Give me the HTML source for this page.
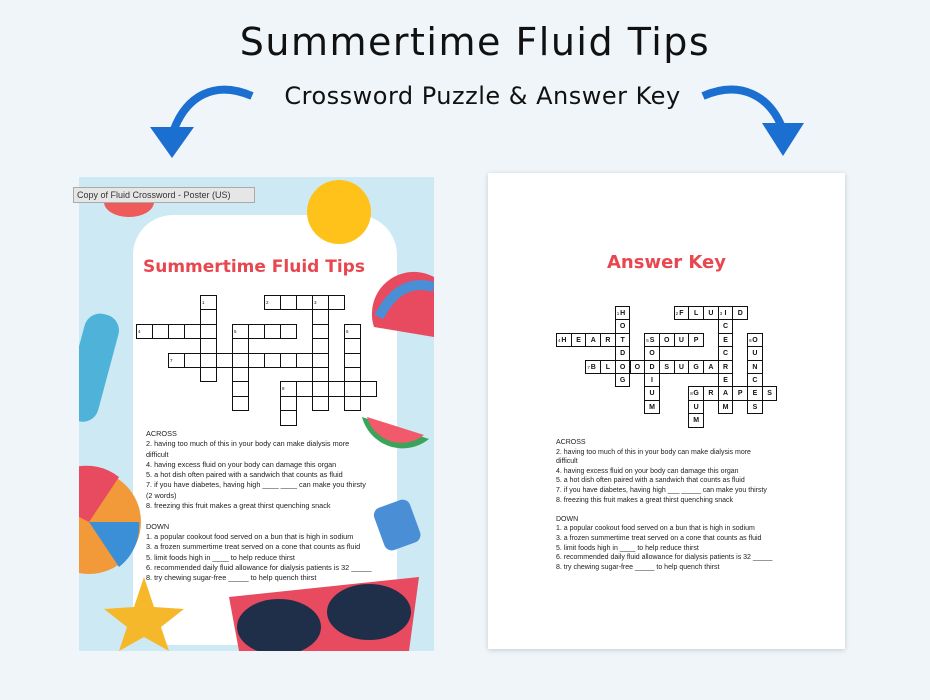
<!DOCTYPE html>
<html><head><meta charset="utf-8"><style>
body{margin:0;width:930px;height:700px;background:#eff5f9;position:relative;overflow:hidden;font-family:"Liberation Sans",sans-serif}
.abs{position:absolute}
.t{font-size:7.3px;line-height:10.3px;color:#222;white-space:nowrap}
.t2{font-size:7px;line-height:9.6px;color:#222;white-space:nowrap}
.c{position:absolute;border:1.3px solid #111;box-sizing:border-box;background:#fff;font-size:7px;font-weight:bold;text-align:center;color:#111}
.n{position:absolute;left:1px;top:0;font-size:4.5px;font-weight:normal}
</style></head><body>
<div class="abs" style="left:10px;width:930px;top:20px;text-align:center;font-size:38px;color:#111;letter-spacing:1.5px;font-family:'DejaVu Sans',sans-serif">Summertime Fluid Tips</div>
<div class="abs" style="left:0;width:965px;top:82px;text-align:center;font-size:24px;color:#111;font-family:'DejaVu Sans',sans-serif;letter-spacing:0.5px">Crossword Puzzle &amp; Answer Key</div>
<svg class="abs" style="left:0;top:0" width="930" height="170">
<path d="M252 96 C215 80 185 95 172 135" stroke="#1a6fd0" stroke-width="8" fill="none"/>
<polygon points="150,127 194,127 172,158" fill="#1a6fd0"/>
<path d="M703 96 C740 80 770 95 783 130" stroke="#1a6fd0" stroke-width="8" fill="none"/>
<polygon points="762,123 804,123 783,156" fill="#1a6fd0"/>
</svg>
<div class="abs" style="left:79px;top:177px;width:355px;height:474px;background:#cde9f4;overflow:hidden">
<div class="abs" style="left:54px;top:38px;width:264px;height:430px;background:#fff;border-radius:40px"></div>
<svg class="abs" style="left:0;top:0" width="355" height="474">
<circle cx="260" cy="35" r="32" fill="#ffc21a"/>
<ellipse cx="50" cy="25" rx="25" ry="15" fill="#ef5a5a"/>
<path d="M295 150 A42 42 0 0 1 355 100 L355 160 Z" fill="#e84a5f"/>
<path d="M300 140 Q320 100 355 110" stroke="#4a8fd6" stroke-width="10" fill="none"/>
<path d="M283 240 A42 42 0 0 0 350 262 Z" fill="#3aa55a"/>
<path d="M288 240 A36 36 0 0 0 345 258 Z" fill="#f05a6a"/>
<rect x="-5" y="135" width="35" height="110" rx="16" fill="#4fb3d9" transform="rotate(15 10 190)"/>
<circle cx="10" cy="345" r="52" fill="#f29a3a"/>
<path d="M10 345 L-40 320 A52 52 0 0 1 40 300 Z" fill="#e84a5f"/>
<path d="M10 345 L60 345 A52 52 0 0 1 40 390 Z" fill="#3a8fd6"/>
<rect x="300" y="325" width="38" height="45" rx="8" fill="#4a8fd6" transform="rotate(-20 320 350)"/>
<polygon points="65,400 75,430 105,432 82,450 90,474 65,460 40,474 48,450 25,432 55,430" fill="#f5b82a"/>
<path d="M150 420 L340 400 L330 474 L160 474 Z" fill="#e84a5f"/>
<ellipse cx="200" cy="450" rx="42" ry="28" fill="#1f2f4a"/>
<ellipse cx="290" cy="435" rx="42" ry="28" fill="#1f2f4a"/>
</svg>
<div class="abs" style="left:64px;top:80px;font-size:17px;font-weight:bold;color:#e8474f;font-family:'DejaVu Sans',sans-serif">Summertime Fluid Tips</div>
</div>
<div class="abs" style="left:73px;top:187px;width:182px;height:16px;background:#e6e6e6;border:1px solid #aaa;box-sizing:border-box;font-size:9px;line-height:14px;color:#333;padding-left:3px">Copy of Fluid Crossword - Poster (US)</div>
<div id="g1"></div>
<div class="abs t" style="left:146px;top:429px">ACROSS<br>2. having too much of this in your body can make dialysis more<br>difficult<br>4. having excess fluid on your body can damage this organ<br>5. a hot dish often paired with a sandwich that counts as fluid<br>7. if you have diabetes, having high ____ ____ can make you thirsty<br>(2 words)<br>8. freezing this fruit makes a great thirst quenching snack<br><br>DOWN<br>1. a popular cookout food served on a bun that is high in sodium<br>3. a frozen summertime treat served on a cone that counts as fluid<br>5. limit foods high in ____ to help reduce thirst<br>6. recommended daily fluid allowance for dialysis patients is 32 _____<br>8. try chewing sugar-free _____ to help quench thirst</div>
<div class="abs" style="left:488px;top:173px;width:357px;height:476px;background:#fff;box-shadow:0 1px 5px rgba(0,0,0,.18)"></div>
<div class="abs" style="left:488px;width:357px;top:252px;text-align:center;font-size:18px;font-weight:bold;color:#e8474f;font-family:'DejaVu Sans',sans-serif">Answer Key</div>
<div id="g2"></div>
<div class="abs t2" style="left:556px;top:438px">ACROSS<br>2. having too much of this in your body can make dialysis more<br>difficult<br>4. having excess fluid on your body can damage this organ<br>5. a hot dish often paired with a sandwich that counts as fluid<br>7. if you have diabetes, having high ___ _____ can make you thirsty<br>8. freezing this fruit makes a great thirst quenching snack<br><br>DOWN<br>1. a popular cookout food served on a bun that is high in sodium<br>3. a frozen summertime treat served on a cone that counts as fluid<br>5. limit foods high in ____ to help reduce thirst<br>6. recommended daily fluid allowance for dialysis patients is 32 _____<br>8. try chewing sugar-free _____ to help quench thirst</div>
<script>
var words=[[1,4,0,'d','HOTDOG'],[2,8,0,'a','FLUID'],[3,11,0,'d','ICECREAM'],[4,0,2,'a','HEART'],[5,6,2,'a','SOUP'],[5,6,2,'d','SODIUM'],[6,13,2,'d','OUNCES'],[7,2,4,'a','BLOODSUGAR'],[8,9,6,'a','GRAPES'],[8,9,6,'d','GUM']];
function build(id,x0,y0,cw,ch,letters){var cells={},nums={};
words.forEach(function(w){nums[w[1]+','+w[2]]=w[0];for(var i=0;i<w[4].length;i++){var c=w[1]+(w[3]=='a'?i:0),r=w[2]+(w[3]=='d'?i:0);cells[c+','+r]=w[4][i];}});
var h='';for(var k in cells){var p=k.split(',');h+='<div class="c" style="left:'+(x0+p[0]*cw)+'px;top:'+(y0+p[1]*ch)+'px;width:'+(cw+1)+'px;height:'+(ch+1)+'px;line-height:'+ch+'px">'+(nums[k]?'<span class="n">'+nums[k]+'</span>':'')+(letters?cells[k]:'')+'</div>';}
document.getElementById(id).innerHTML=h;}
build('g1',136,295,16,14.4,false);
build('g2',556,306,14.7,13.4,true);
</script>
</body></html>
